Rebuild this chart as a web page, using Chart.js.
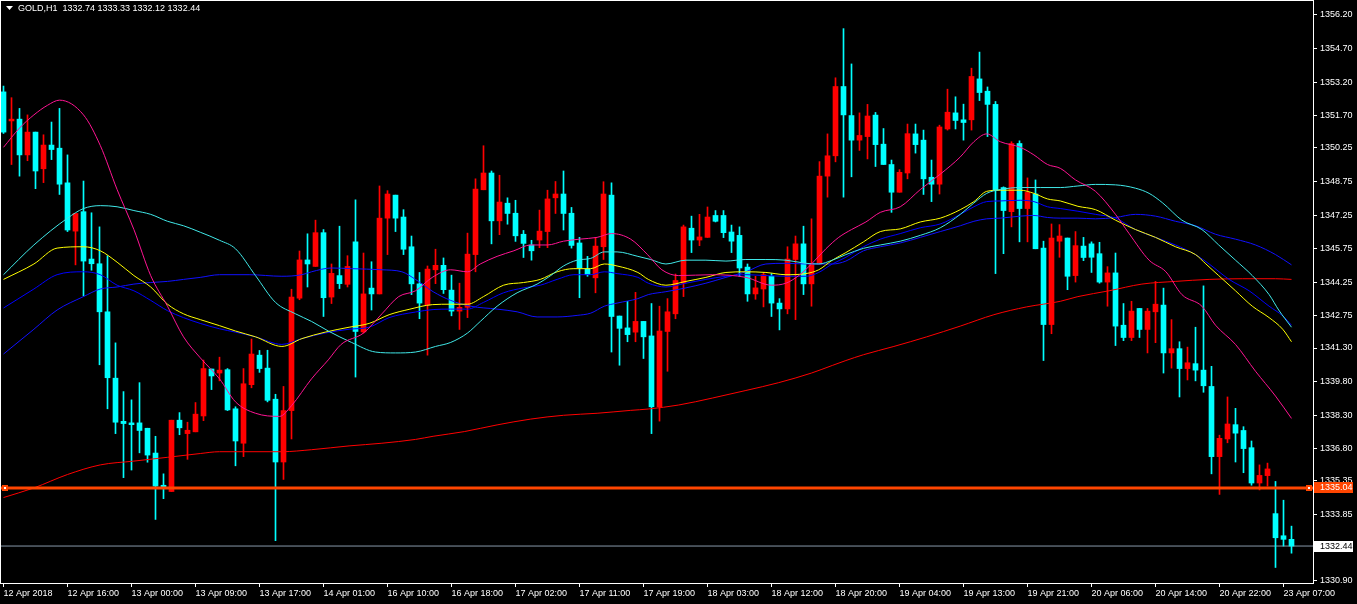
<!DOCTYPE html>
<html>
<head>
<meta charset="utf-8">
<script src="https://cdn.jsdelivr.net/npm/chart.js@4.4.1/dist/chart.umd.min.js"></script>
<style>
  html, body { margin: 0; padding: 0; background: #000; overflow: hidden; }
  canvas { display: block; }
</style>
</head>
<body>
<canvas id="chart" width="1357" height="604"></canvas>
<script>
const chartTitle = "GOLD,H1  1332.74 1333.33 1332.12 1332.44";

// one label every 8 hourly bars
const timeLabels = [
  "12 Apr 2018", "12 Apr 16:00", "13 Apr 00:00", "13 Apr 09:00", "13 Apr 17:00",
  "14 Apr 01:00", "16 Apr 10:00", "16 Apr 18:00", "17 Apr 02:00", "17 Apr 11:00",
  "17 Apr 19:00", "18 Apr 03:00", "18 Apr 12:00", "18 Apr 20:00", "19 Apr 04:00",
  "19 Apr 13:00", "19 Apr 21:00", "20 Apr 06:00", "20 Apr 14:00", "20 Apr 22:00",
  "23 Apr 07:00"
];

const priceTicks = [
  1356.20, 1354.70, 1353.20, 1351.70, 1350.25, 1348.75, 1347.25, 1345.75, 1344.25,
  1342.75, 1341.30, 1339.80, 1338.30, 1336.80, 1335.35, 1333.85, 1332.35, 1330.90
];

const opens = [
  1352.76, 1351.46, 1351.54, 1349.94, 1350.96, 1349.32, 1350.38, 1350.24, 1348.69, 1346.53,
  1347.40, 1345.28, 1345.07, 1342.92, 1339.95, 1338.02, 1337.95, 1337.95, 1337.71, 1336.60,
  1335.16, 1334.88, 1338.07, 1337.47, 1337.55, 1338.26, 1340.36, 1340.18, 1340.33, 1338.58,
  1337.04, 1339.66, 1340.98, 1340.40, 1339.01, 1336.20, 1338.50, 1343.53, 1345.24, 1344.95,
  1346.46, 1343.58, 1344.54, 1344.15, 1346.05, 1342.02, 1343.98, 1343.72, 1347.11, 1348.14,
  1347.16, 1345.83, 1344.17, 1343.22, 1344.80, 1345.00, 1343.89, 1342.95, 1343.12, 1345.48,
  1348.38, 1349.13, 1346.99, 1347.78, 1347.33, 1346.39, 1345.91, 1346.13, 1346.51, 1348.02,
  1348.19, 1347.33, 1346.00, 1344.83, 1344.44, 1345.83, 1348.14, 1342.73, 1342.20, 1342.01,
  1342.49, 1341.84, 1338.67, 1342.04, 1342.83, 1344.20, 1346.66, 1346.13, 1346.25, 1347.23,
  1347.23, 1346.49, 1346.34, 1344.92, 1343.72, 1343.94, 1344.51, 1343.31, 1343.05, 1345.26,
  1345.96, 1344.17, 1345.06, 1348.99, 1349.90, 1353.00, 1351.70, 1350.60, 1350.76, 1351.72,
  1350.42, 1349.51, 1348.27, 1349.13, 1350.88, 1350.60, 1348.94, 1348.63, 1351.10, 1351.82,
  1351.51, 1351.51, 1353.34, 1352.79, 1352.20, 1348.48, 1347.40, 1350.45, 1347.54, 1348.19,
  1345.77, 1342.35, 1346.08, 1346.22, 1344.54, 1345.86, 1345.96, 1345.52, 1344.25, 1344.66,
  1342.32, 1341.77, 1343.07, 1342.13, 1342.92, 1343.22, 1341.08, 1341.27, 1340.38, 1340.60,
  1340.31, 1339.58, 1336.44, 1337.23, 1337.87, 1337.61, 1336.84, 1335.26, 1335.59, 1333.89,
  1332.90, 1332.74
];
const highs = [
  1353.02, 1352.50, 1352.02, 1351.73, 1350.96, 1350.84, 1351.41, 1352.02, 1349.94, 1347.32,
  1348.77, 1347.35, 1346.72, 1345.43, 1341.53, 1339.35, 1338.98, 1339.75, 1337.71, 1337.35,
  1335.67, 1338.07, 1338.41, 1337.98, 1338.86, 1340.76, 1340.36, 1340.89, 1340.38, 1338.67,
  1340.38, 1341.70, 1341.19, 1341.20, 1339.23, 1339.58, 1343.93, 1345.64, 1346.41, 1347.02,
  1346.60, 1345.06, 1346.75, 1345.43, 1347.93, 1345.55, 1345.16, 1348.55, 1348.34, 1348.14,
  1347.49, 1346.31, 1344.68, 1344.97, 1345.72, 1345.33, 1344.56, 1344.20, 1346.44, 1348.87,
  1350.35, 1349.22, 1349.03, 1348.02, 1347.91, 1346.56, 1346.12, 1347.47, 1348.36, 1348.75,
  1349.22, 1347.59, 1346.25, 1345.40, 1346.25, 1348.74, 1348.69, 1342.73, 1343.39, 1343.79,
  1342.49, 1343.29, 1343.17, 1343.51, 1344.61, 1346.80, 1347.20, 1347.28, 1347.61, 1347.45,
  1347.45, 1346.80, 1346.72, 1345.06, 1344.51, 1344.68, 1344.63, 1343.51, 1345.83, 1346.31,
  1346.75, 1347.08, 1349.64, 1350.88, 1353.39, 1355.59, 1354.01, 1351.82, 1352.20, 1351.84,
  1351.12, 1349.71, 1349.28, 1351.32, 1351.32, 1351.05, 1349.71, 1351.27, 1352.88, 1352.54,
  1352.21, 1353.82, 1354.54, 1352.98, 1352.33, 1348.51, 1350.53, 1350.57, 1348.91, 1348.82,
  1346.08, 1346.85, 1346.82, 1346.22, 1346.51, 1346.25, 1346.05, 1346.03, 1344.94, 1345.55,
  1343.29, 1343.39, 1343.07, 1343.07, 1344.28, 1343.98, 1342.57, 1341.58, 1341.34, 1342.23,
  1344.08, 1340.48, 1337.40, 1339.11, 1338.60, 1337.78, 1337.14, 1336.07, 1336.15, 1335.33,
  1334.49, 1333.33
];
const lows = [
  1350.90, 1349.51, 1348.99, 1349.68, 1348.43, 1348.70, 1349.73, 1348.17, 1346.51, 1345.02,
  1343.63, 1344.78, 1340.55, 1338.58, 1337.47, 1335.50, 1335.84, 1336.61, 1336.19, 1333.63,
  1334.56, 1334.88, 1337.42, 1336.32, 1337.55, 1338.05, 1339.44, 1339.83, 1338.50, 1336.03,
  1336.44, 1339.52, 1340.21, 1338.89, 1332.68, 1335.42, 1337.23, 1343.46, 1344.03, 1344.95,
  1342.71, 1343.29, 1343.96, 1344.03, 1340.00, 1341.97, 1343.00, 1343.72, 1345.48, 1346.51,
  1345.48, 1343.69, 1342.61, 1340.98, 1344.18, 1343.74, 1342.74, 1342.13, 1342.66, 1344.71,
  1348.38, 1345.96, 1346.37, 1346.84, 1346.07, 1345.35, 1345.23, 1345.79, 1345.79, 1347.32,
  1346.58, 1345.77, 1343.55, 1344.51, 1343.77, 1345.26, 1341.12, 1340.53, 1341.58, 1341.58,
  1340.83, 1337.47, 1338.03, 1340.26, 1342.61, 1343.60, 1345.57, 1345.88, 1346.25, 1346.94,
  1346.24, 1345.57, 1344.51, 1343.39, 1343.48, 1343.14, 1342.71, 1342.11, 1342.83, 1342.57,
  1343.69, 1343.17, 1345.06, 1348.05, 1349.63, 1348.05, 1348.96, 1350.14, 1349.76, 1349.42,
  1349.51, 1347.37, 1348.27, 1348.87, 1350.02, 1348.17, 1347.85, 1348.19, 1351.05, 1351.10,
  1350.60, 1351.05, 1352.37, 1350.76, 1344.63, 1345.52, 1346.72, 1346.05, 1346.05, 1345.74,
  1340.74, 1341.94, 1345.36, 1343.91, 1344.25, 1345.21, 1344.68, 1344.20, 1343.17, 1341.41,
  1341.63, 1341.63, 1341.77, 1341.08, 1341.54, 1340.18, 1340.40, 1339.11, 1339.87, 1339.83,
  1339.32, 1335.67, 1334.75, 1337.06, 1336.20, 1335.72, 1335.16, 1334.95, 1335.12, 1331.48,
  1332.44, 1332.12
];
const closes = [
  1350.96, 1351.54, 1349.94, 1350.96, 1349.22, 1350.38, 1350.18, 1348.63, 1346.58, 1347.32,
  1345.19, 1345.07, 1342.92, 1339.97, 1337.98, 1337.92, 1337.87, 1337.61, 1336.51, 1335.12,
  1335.02, 1338.07, 1337.73, 1337.62, 1338.34, 1340.38, 1340.05, 1340.31, 1338.53, 1337.14,
  1339.70, 1341.03, 1340.38, 1338.96, 1336.20, 1338.50, 1343.58, 1345.24, 1345.06, 1346.46,
  1343.55, 1344.64, 1344.18, 1344.95, 1342.04, 1343.72, 1343.72, 1347.11, 1348.19, 1347.11,
  1345.72, 1344.17, 1343.31, 1344.83, 1345.00, 1343.91, 1342.95, 1343.12, 1345.50, 1348.41,
  1349.13, 1346.99, 1347.83, 1347.32, 1346.32, 1345.98, 1345.65, 1346.53, 1347.97, 1348.19,
  1347.32, 1345.89, 1344.88, 1344.58, 1345.86, 1348.19, 1342.71, 1342.18, 1341.90, 1342.49,
  1341.80, 1338.67, 1342.06, 1342.92, 1344.32, 1346.72, 1346.13, 1346.27, 1347.16, 1346.97,
  1346.46, 1346.08, 1344.88, 1343.72, 1343.99, 1344.58, 1343.31, 1343.05, 1345.28, 1345.96,
  1344.17, 1345.06, 1348.99, 1349.90, 1353.00, 1351.73, 1350.60, 1350.81, 1351.68, 1350.40,
  1349.51, 1348.27, 1349.16, 1350.89, 1350.40, 1348.87, 1348.63, 1351.19, 1351.85, 1351.48,
  1351.39, 1353.45, 1352.73, 1352.20, 1348.36, 1347.45, 1350.45, 1347.54, 1348.26, 1345.74,
  1342.35, 1346.22, 1346.31, 1344.51, 1345.88, 1345.35, 1345.36, 1344.25, 1344.66, 1342.28,
  1341.77, 1342.95, 1342.13, 1342.95, 1343.26, 1341.08, 1341.27, 1340.38, 1340.64, 1340.31,
  1339.61, 1336.44, 1337.26, 1337.90, 1337.49, 1336.80, 1335.26, 1335.60, 1335.89, 1332.81,
  1332.74, 1332.44
];

// moving averages, read as [bar, price]
const maPink = [
  [0, 1350.28], [2, 1351.14], [3.8, 1351.73], [5.5, 1352.16], [7, 1352.39], [10, 1351.73],
  [12.1, 1350.36], [14.2, 1348.39], [16.3, 1346.60], [18.4, 1344.54], [20.5, 1343.17],
  [22.5, 1341.80], [24.6, 1340.86], [27, 1339.92], [29, 1338.89], [31.5, 1338.38],
  [34.5, 1338.24], [36, 1338.72], [38.5, 1339.92], [40.6, 1340.77], [42.2, 1341.46],
  [45, 1341.97], [47.3, 1342.83], [49.4, 1343.60], [51.5, 1343.86], [53.6, 1344.46],
  [55.9, 1344.80], [58, 1344.71], [59.6, 1345.06], [61.7, 1345.40], [63.8, 1345.65],
  [65.9, 1345.91], [68, 1345.91], [70, 1346.08], [72, 1346.17], [74.2, 1346.25],
  [76, 1346.42], [78.4, 1346.17], [80.5, 1345.48], [82.3, 1344.80], [84.4, 1344.54],
  [88.6, 1344.58], [92.8, 1344.46], [96, 1344.11], [97.8, 1344.20], [99.4, 1344.54],
  [101, 1345.06], [102.8, 1345.74], [104.4, 1346.25], [106, 1346.60], [107.8, 1346.94],
  [109.6, 1347.37], [112.1, 1347.62], [114.6, 1348.39], [117.1, 1349.08], [119.6, 1349.85],
  [121.3, 1350.53], [122.9, 1350.88], [124.6, 1350.53], [127.1, 1350.28], [128.8, 1349.94],
  [130.5, 1349.51], [132.1, 1349.34], [134, 1348.82], [136.5, 1348.31], [139, 1347.28],
  [140.7, 1346.42], [143.2, 1345.23], [145.3, 1344.71], [147.3, 1343.69], [149.8, 1343.17],
  [151.5, 1342.32], [154, 1341.46], [156.5, 1340.26], [159, 1339.15], [161, 1338.15]
];
const maAqua = [
  [0, 1344.58], [3.8, 1345.91], [8, 1347.11], [10, 1347.54], [12.1, 1347.67], [14.2, 1347.62],
  [16.3, 1347.45], [18.4, 1347.28], [20.5, 1346.97], [22.5, 1346.77], [24.6, 1346.48],
  [27, 1346.12], [29, 1345.74], [31.5, 1344.54], [34, 1343.34], [36.5, 1342.83],
  [38.5, 1342.49], [40.6, 1342.06], [43.5, 1341.55], [46.5, 1341.12], [49, 1341.08],
  [51.5, 1341.12], [54, 1341.37], [55.9, 1341.55], [58, 1341.97], [59.6, 1342.49],
  [61.7, 1343.17], [64.2, 1343.77], [66.7, 1344.16], [68.4, 1344.54], [70, 1344.97],
  [71.7, 1345.23], [73.4, 1345.31], [75.1, 1345.60], [76.7, 1345.60], [79.3, 1345.40],
  [80.9, 1345.26], [82.8, 1345.06], [85.3, 1345.23], [87.8, 1345.23], [90.3, 1345.19],
  [92.8, 1345.26], [95.3, 1345.26], [97.8, 1345.23], [100.3, 1345.09], [101.9, 1345.06],
  [103.6, 1345.23], [105.3, 1345.48], [107.5, 1345.76], [109.6, 1345.91], [112.1, 1346.08],
  [114.6, 1346.34], [117.1, 1346.68], [119.6, 1347.28], [121.3, 1347.79], [122.9, 1348.22],
  [124.6, 1348.39], [127.1, 1348.48], [129.6, 1348.48], [132.1, 1348.48], [134.3, 1348.55],
  [136.5, 1348.62], [139, 1348.60], [141.5, 1348.45], [143.2, 1348.22], [144.9, 1347.79],
  [147.3, 1347.02], [149.8, 1346.60], [151.9, 1345.91], [154, 1345.23], [156.1, 1344.54],
  [158.2, 1343.69], [159.4, 1343.00], [161, 1342.23]
];
const maYellow = [
  [0, 1344.37], [3.8, 1345.06], [6.7, 1345.77], [10, 1345.83], [12.1, 1345.65], [14.2, 1345.14],
  [16.3, 1344.54], [18.4, 1344.03], [20.5, 1343.26], [22.5, 1342.83], [24.6, 1342.57],
  [27, 1342.30], [29, 1342.06], [31.5, 1341.80], [34.8, 1341.37], [37.3, 1341.72],
  [40.2, 1342.01], [43.2, 1342.23], [45.7, 1342.40], [48.2, 1342.79], [50.7, 1343.03],
  [53.6, 1343.24], [55.9, 1343.26], [58, 1343.26], [60, 1343.60], [62.5, 1344.11],
  [65, 1344.23], [67.1, 1344.37], [69.2, 1344.71], [71.3, 1344.85], [73.4, 1344.85],
  [75.1, 1345.06], [76.7, 1344.97], [79.3, 1344.68], [80.6, 1344.37], [82.8, 1344.11],
  [85.3, 1344.28], [87.8, 1344.46], [90.3, 1344.68], [92.8, 1344.71], [95.3, 1344.68],
  [97.8, 1344.58], [100.3, 1344.63], [101.9, 1344.80], [103.6, 1345.23], [105.3, 1345.57],
  [107.5, 1346.05], [109.6, 1346.51], [112.1, 1346.63], [114.6, 1346.94], [117.1, 1347.11],
  [119.6, 1347.49], [121.3, 1347.85], [122.9, 1348.31], [124.6, 1348.36], [127.1, 1348.36],
  [128.8, 1348.22], [130.5, 1347.97], [132.1, 1347.88], [134.3, 1347.64], [136.5, 1347.49],
  [139, 1347.02], [141.5, 1346.60], [144, 1346.25], [146.5, 1345.83], [149, 1345.48],
  [150.3, 1345.06], [151.9, 1344.54], [154, 1343.86], [156.1, 1343.17], [158.2, 1342.66],
  [159.9, 1342.14], [161, 1341.58]
];
const maBlue = [
  [0, 1343.09], [3.8, 1343.94], [6.7, 1344.58], [10, 1344.71], [12.1, 1344.58], [14.2, 1344.11],
  [16.3, 1343.86], [18.4, 1343.43], [20.5, 1342.97], [22.5, 1342.66], [24.6, 1342.40],
  [27, 1342.16], [29, 1342.01], [31.5, 1341.80], [34.8, 1341.46], [37.3, 1341.72],
  [40.2, 1341.97], [43.2, 1342.14], [45.7, 1342.23], [48.2, 1342.66], [51.5, 1342.91],
  [53.7, 1343.02], [55.9, 1343.04], [58, 1343.04], [60, 1343.34], [62.5, 1343.77],
  [65, 1343.99], [67.1, 1344.11], [69.2, 1344.37], [71.3, 1344.58], [73.4, 1344.58],
  [75.1, 1344.71], [76.7, 1344.63], [79.3, 1344.46], [80.6, 1344.20], [82.8, 1344.03],
  [85.3, 1344.20], [87.8, 1344.37], [90.3, 1344.51], [92.8, 1344.58], [95.3, 1344.54],
  [97.8, 1344.51], [100.3, 1344.51], [101.9, 1344.68], [103.6, 1345.06], [105.3, 1345.36],
  [107.5, 1345.83], [109.6, 1346.17], [112.1, 1346.42], [114.6, 1346.68], [117.1, 1346.85],
  [119.6, 1347.28], [121.3, 1347.62], [122.9, 1347.85], [124.6, 1347.88], [127.1, 1347.91],
  [128.8, 1347.85], [130.5, 1347.62], [132.1, 1347.54], [134.3, 1347.42], [136.5, 1347.28],
  [139, 1347.11], [141.5, 1346.60], [144, 1346.25], [146.5, 1345.91], [149, 1345.48],
  [150.7, 1345.06], [153.2, 1344.37], [155.7, 1343.86], [158.2, 1343.17], [159.9, 1342.74],
  [161, 1342.32]
];
const maBlueSlow = [
  [0, 1341.03], [3.8, 1342.14], [6.7, 1343.00], [10, 1343.60], [12.1, 1343.94], [14.2, 1344.03],
  [16.3, 1344.16], [18.4, 1344.23], [20.5, 1344.28], [22.5, 1344.37], [24.6, 1344.46],
  [27, 1344.58], [30.7, 1344.58], [34.8, 1344.51], [37.3, 1344.58], [38.5, 1344.71],
  [41, 1344.88], [43.5, 1344.85], [47.3, 1344.80], [49.8, 1344.71], [51.5, 1344.37],
  [53.7, 1343.82], [55.9, 1343.43], [58.4, 1343.17], [61.7, 1343.04], [64.2, 1342.92],
  [66.7, 1342.69], [69.2, 1342.69], [71.7, 1342.76], [73.4, 1342.86], [75.1, 1343.17],
  [76.7, 1343.31], [79.3, 1343.51], [80.6, 1343.69], [82.8, 1343.82], [85.3, 1343.99],
  [87.8, 1344.20], [90.3, 1344.46], [92.8, 1344.71], [95.3, 1345.06], [97.8, 1345.09],
  [100.3, 1345.06], [103.6, 1345.06], [105.3, 1345.19], [107.5, 1345.65], [109.6, 1345.83],
  [112.1, 1346.00], [114.6, 1346.25], [117.1, 1346.51], [119.6, 1346.77], [121.3, 1346.97],
  [122.9, 1347.08], [124.6, 1347.11], [127.1, 1347.20], [128.8, 1347.23], [130.5, 1347.14],
  [132.1, 1347.11], [134.3, 1347.11], [136.5, 1347.08], [139, 1347.14], [141.5, 1347.28],
  [144, 1347.20], [146.5, 1346.97], [149, 1346.77], [151.5, 1346.39], [154, 1346.17],
  [156.5, 1345.91], [159, 1345.48], [161, 1345.02]
];
const maRed = [
  [0, 1334.61], [3.8, 1335.04], [8, 1335.64], [12.1, 1336.07], [16.3, 1336.24], [20.5, 1336.41],
  [24.6, 1336.58], [27, 1336.66], [34.8, 1336.66], [38.5, 1336.75], [43.2, 1336.92],
  [47.3, 1337.04], [51.5, 1337.21], [53.7, 1337.35], [57.6, 1337.56], [61.7, 1337.86],
  [65.9, 1338.12], [70, 1338.29], [74.2, 1338.38], [78.4, 1338.51], [80.6, 1338.57],
  [84.4, 1338.75], [88.6, 1339.06], [92.8, 1339.40], [96.9, 1339.75], [101, 1340.18],
  [103.6, 1340.52], [105.3, 1340.74], [107.5, 1341.00], [111.3, 1341.37], [115.4, 1341.80],
  [119.6, 1342.28], [123.8, 1342.79], [127.9, 1343.14], [132.1, 1343.39], [134.3, 1343.60],
  [138.2, 1343.86], [142.3, 1344.16], [146.5, 1344.28], [150.7, 1344.37], [154.9, 1344.40],
  [159, 1344.40], [161, 1344.37]
];

const levelPrice = 1335.04;
const bidPrice = 1332.44;

const BULL = "#ff0000";
const BEAR = "#00ffff";
const LEVEL = "#ff4500";
const FONT = "Liberation Sans";

const candleColor = (i) => (closes[i] >= opens[i] ? BULL : BEAR);
const toPoints = (pairs) => pairs.map(([x, y]) => ({ x, y }));

const xMin = -0.3125;
const xMax = 163.6875;

function maLine(label, pairs, color) {
  return {
    type: "line",
    label,
    data: toPoints(pairs),
    borderColor: color,
    borderWidth: 1,
    pointRadius: 0,
    cubicInterpolationMode: "monotone",
    order: 1
  };
}

function flatLine(label, price, color, width, order) {
  return {
    type: "line",
    label,
    data: [{ x: xMin, y: price }, { x: xMax, y: price }],
    borderColor: color,
    borderWidth: width,
    pointRadius: 0,
    order
  };
}

// frame, title and the price boxes on the right axis
const mtDecor = {
  id: "mtDecor",
  afterDraw(chart) {
    const { ctx, chartArea } = chart;
    const yScale = chart.scales.y;
    ctx.save();
    ctx.strokeStyle = "#ffffff";
    ctx.lineWidth = 1;
    ctx.strokeRect(chartArea.left - 0.5, chartArea.top - 0.5,
      chartArea.right - chartArea.left + 1, chartArea.bottom - chartArea.top + 1);

    ctx.fillStyle = "#ffffff";
    ctx.beginPath();
    ctx.moveTo(chartArea.left + 5, chartArea.top + 5);
    ctx.lineTo(chartArea.left + 12, chartArea.top + 5);
    ctx.lineTo(chartArea.left + 8.5, chartArea.top + 9);
    ctx.closePath();
    ctx.fill();
    ctx.font = "9px " + FONT;
    ctx.textBaseline = "middle";
    ctx.textAlign = "left";
    ctx.fillText(chartTitle, chartArea.left + 17, chartArea.top + 7.5);

    const boxX = chartArea.right + 1;
    const boxW = 39;
    const ly = Math.round(yScale.getPixelForValue(levelPrice));
    ctx.fillStyle = LEVEL;
    ctx.fillRect(boxX, ly - 6, boxW, 11);
    ctx.fillStyle = "#ffffff";
    ctx.fillText(levelPrice.toFixed(2), boxX + 6, ly);
    [chartArea.left + 1, chartArea.right - 7].forEach((mx) => {
      ctx.fillStyle = LEVEL;
      ctx.fillRect(mx, ly - 3, 6, 6);
      ctx.fillStyle = "#ffffff";
      ctx.fillRect(mx + 2, ly - 1, 2, 2);
    });

    const by = Math.round(yScale.getPixelForValue(bidPrice));
    ctx.fillStyle = "#ffffff";
    ctx.fillRect(boxX, by - 5, boxW, 11);
    ctx.fillStyle = "#000000";
    ctx.fillText(bidPrice.toFixed(2), boxX + 6, by + 0.5);
    ctx.restore();
  }
};

new Chart(document.getElementById("chart"), {
  type: "bar",
  data: {
    datasets: [
      flatLine("Level", levelPrice, LEVEL, 3, 0),
      maLine("MA fast", maPink, "#ff1493"),
      maLine("MA aqua", maAqua, "#40e8e8"),
      maLine("MA yellow", maYellow, "#ffff00"),
      maLine("MA blue", maBlue, "#0000ff"),
      maLine("MA blue slow", maBlueSlow, "#1010ff"),
      maLine("MA red", maRed, "#ff0000"),
      {
        label: "Body",
        data: opens.map((o, i) => ({ x: i, y: [o, closes[i]] })),
        backgroundColor: (c) => candleColor(c.dataIndex),
        barThickness: 5,
        minBarLength: 1,
        grouped: false,
        borderWidth: 0,
        order: 2
      },
      {
        label: "Wick",
        data: lows.map((l, i) => ({ x: i, y: [l, highs[i]] })),
        backgroundColor: (c) => candleColor(c.dataIndex),
        barThickness: 1,
        grouped: false,
        borderWidth: 0,
        order: 3
      },
      flatLine("Bid", bidPrice, "#8899aa", 1, 4)
    ]
  },
  options: {
    responsive: false,
    animation: false,
    devicePixelRatio: 1,
    layout: { padding: { left: 1, top: 1, right: 0, bottom: 0 } },
    plugins: { legend: { display: false }, tooltip: { enabled: false } },
    scales: {
      x: {
        type: "linear",
        min: xMin,
        max: xMax,
        offset: false,
        afterBuildTicks: (s) => { s.ticks = timeLabels.map((_, k) => ({ value: k * 8 })); },
        afterFit: (s) => { s.height = 21; s.paddingLeft = 0; s.paddingRight = 0; },
        ticks: {
          color: "#ffffff",
          font: { family: FONT, size: 9 },
          align: "start",
          maxRotation: 0,
          autoSkip: false,
          padding: 1,
          callback: (v, idx) => timeLabels[idx]
        },
        grid: { drawOnChartArea: false, offset: false, color: "#ffffff", tickLength: 4 },
        border: { color: "#ffffff" }
      },
      y: {
        position: "right",
        min: 1330.786,
        max: 1356.826,
        afterBuildTicks: (s) => { s.ticks = priceTicks.map((v) => ({ value: v })); },
        afterFit: (s) => { s.width = 44; s.paddingTop = 0; s.paddingBottom = 0; },
        ticks: {
          color: "#ffffff",
          font: { family: FONT, size: 9 },
          padding: 3,
          autoSkip: false,
          callback: (v) => Number(v).toFixed(2)
        },
        grid: { drawOnChartArea: false, color: "#ffffff", tickLength: 4 },
        border: { color: "#ffffff" }
      }
    }
  },
  plugins: [mtDecor]
});
</script>
</body>
</html>
